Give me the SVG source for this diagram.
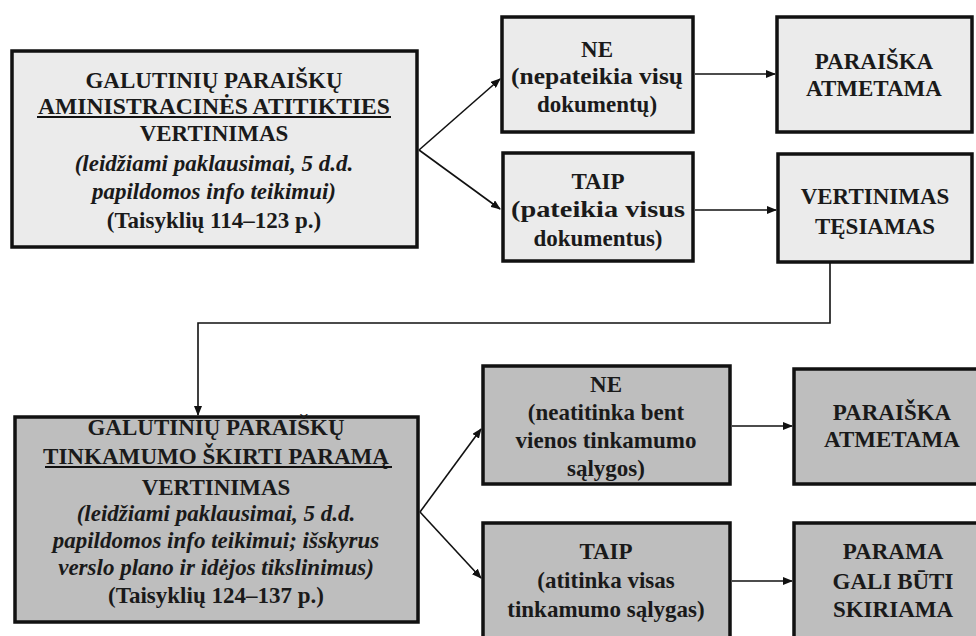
<svg xmlns="http://www.w3.org/2000/svg" width="976" height="636" viewBox="0 0 976 636">
<defs>
<marker id="ah" markerWidth="10" markerHeight="8" refX="9" refY="4" orient="auto" markerUnits="userSpaceOnUse">
<path d="M0,0 L10,4 L0,8 Z" fill="#111"/>
</marker>
<style>
.box{stroke:#111;stroke-width:3.5}
.light{fill:#ebebeb}
.dark{fill:#bebebe}
text{font-family:"Liberation Serif","Times New Roman",serif;font-weight:bold;font-size:23px;fill:#1a1a1a;text-anchor:middle}
.it{font-style:italic}
.ln{stroke:#111;stroke-width:1.6;fill:none}
.ul{stroke:#111;stroke-width:2}
</style>
</defs>
<rect width="976" height="636" fill="#ffffff"/>
<g id="connectors">
<line class="ln" x1="419" y1="150" x2="500" y2="79" marker-end="url(#ah)"/>
<line class="ln" x1="419" y1="150" x2="500" y2="209" marker-end="url(#ah)"/>
<line class="ln" x1="695" y1="74" x2="775" y2="74" marker-end="url(#ah)"/>
<line class="ln" x1="695" y1="210" x2="776" y2="210" marker-end="url(#ah)"/>
<polyline class="ln" points="830,263 830,323 198,323 198,415" marker-end="url(#ah)"/>
<line class="ln" x1="420" y1="512" x2="481" y2="429" marker-end="url(#ah)"/>
<line class="ln" x1="420" y1="512" x2="481" y2="578" marker-end="url(#ah)"/>
<line class="ln" x1="732" y1="426" x2="792" y2="426" marker-end="url(#ah)"/>
<line class="ln" x1="732" y1="581" x2="792" y2="581" marker-end="url(#ah)"/>
</g>
<g id="admin-eval">
<rect class="box light" x="12" y="51" width="405" height="196"/>
<text x="214" y="88">GALUTINIŲ PARAIŠKŲ</text>
<text x="214" y="114" textLength="352" lengthAdjust="spacingAndGlyphs">AMINISTRACINĖS ATITIKTIES</text>
<line class="ul" x1="37" y1="117" x2="391" y2="117"/>
<text x="214" y="141">VERTINIMAS</text>
<text class="it" x="214" y="171">(leidžiami paklausimai, 5 d.d.</text>
<text class="it" x="214" y="199">papildomos info teikimui)</text>
<text x="214" y="228">(Taisyklių 114–123 p.)</text>
</g>
<g id="ne-top">
<rect class="box light" x="502" y="17" width="191" height="115"/>
<text x="597" y="57">NE</text>
<text x="597" y="84" textLength="172" lengthAdjust="spacingAndGlyphs">(nepateikia visų</text>
<text x="597" y="112">dokumentų)</text>
</g>
<g id="rejected-top">
<rect class="box light" x="777" y="17" width="195" height="115"/>
<text x="874" y="69">PARAIŠKA</text>
<text x="874" y="96">ATMETAMA</text>
</g>
<g id="taip-top">
<rect class="box light" x="503" y="153" width="190" height="108"/>
<text x="598" y="189">TAIP</text>
<text x="598" y="217" textLength="174" lengthAdjust="spacingAndGlyphs">(pateikia visus</text>
<text x="598" y="246">dokumentus)</text>
</g>
<g id="continue">
<rect class="box light" x="778" y="154" width="194" height="108"/>
<text x="875" y="204">VERTINIMAS</text>
<text x="875" y="234">TĘSIAMAS</text>
</g>
<g id="eligibility-eval">
<rect class="box dark" x="15" y="417" width="403" height="205"/>
<text x="216" y="435">GALUTINIŲ PARAIŠKŲ</text>
<text x="216" y="464" textLength="346" lengthAdjust="spacingAndGlyphs">TINKAMUMO ŠKIRTI PARAMĄ</text>
<line class="ul" x1="45" y1="467" x2="392" y2="467"/>
<text x="216" y="495">VERTINIMAS</text>
<text class="it" x="216" y="521">(leidžiami paklausimai, 5 d.d.</text>
<text class="it" x="216" y="548">papildomos info teikimui; išskyrus</text>
<text class="it" x="216" y="575">verslo plano ir idėjos tikslinimus)</text>
<text x="216" y="603">(Taisyklių 124–137 p.)</text>
</g>
<g id="ne-bottom">
<rect class="box dark" x="483" y="366" width="247" height="118"/>
<text x="606" y="392">NE</text>
<text x="606" y="420">(neatitinka bent</text>
<text x="606" y="448">vienos tinkamumo</text>
<text x="606" y="476">sąlygos)</text>
</g>
<g id="rejected-bottom">
<rect class="box dark" x="794" y="369" width="196" height="115"/>
<text x="892" y="420">PARAIŠKA</text>
<text x="892" y="447">ATMETAMA</text>
</g>
<g id="taip-bottom">
<rect class="box dark" x="483" y="523" width="247" height="125"/>
<text x="606" y="559">TAIP</text>
<text x="606" y="588">(atitinka visas</text>
<text x="606" y="617">tinkamumo sąlygas)</text>
</g>
<g id="support">
<rect class="box dark" x="794" y="523" width="196" height="125"/>
<text x="893" y="559">PARAMA</text>
<text x="893" y="589">GALI BŪTI</text>
<text x="893" y="617">SKIRIAMA</text>
</g>
</svg>
